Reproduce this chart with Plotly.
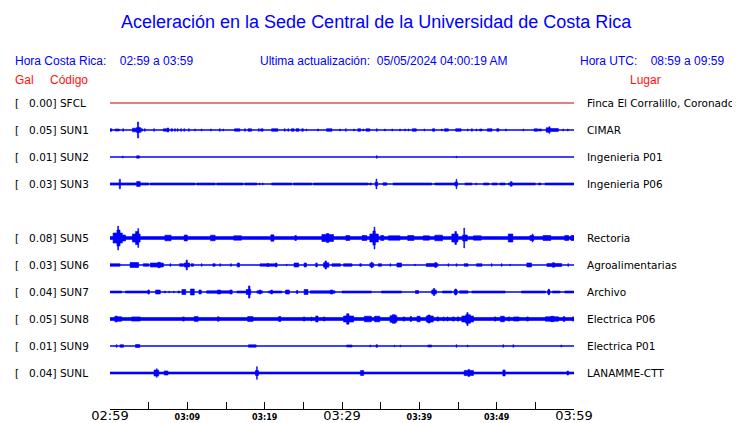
import plotly.graph_objects as go

# ---------------- data ----------------
TICK_MINUTES = list(range(0, 61, 5))
MAJOR_LABELS = {0: "02:59", 30: "03:29", 60: "03:59"}
MINOR_LABELS = {10: "03:09", 20: "03:19", 40: "03:39", 50: "03:49"}

codes = ["SFCL", "SUN1", "SUN2", "SUN3", "SUN5", "SUN6", "SUN7", "SUN8", "SUN9", "SUNL"]
rows = [0, 1, 2, 3, 5, 6, 7, 8, 9, 10]
gal = [0.00, 0.05, 0.01, 0.03, 0.08, 0.03, 0.04, 0.05, 0.01, 0.04]
places = ["Finca El Corralillo, Coronado", "CIMAR", "Ingenieria P01", "Ingenieria P06",
          "Rectoria", "Agroalimentarias", "Archivo", "Electrica P06", "Electrica P01", "LANAMME-CTT"]

# bursts: (start minute, end minute, relative amplitude)
SFCL_EVENTS = []
SUN1_EVENTS = [(0.0, 0.25, 1.2), (0.65, 1.2, 1.0), (1.65, 1.75, 1.3),
    (2.9, 3.45, 1.8), (3.45, 3.95, 2.5), (3.55, 3.7, 8.0), (3.95, 4.2, 1.3), (4.45, 4.55, 1.3), (5.65, 5.75, 1.3),
    (6.9, 7.6, 1.2), (7.4, 7.6, 2.0), (7.9, 8.1, 1.2), (8.35, 8.45, 1.3), (8.7, 8.8, 1.3), (9.15, 9.25, 1.3), (9.55, 9.65, 1.3),
    (10.15, 10.25, 1.3), (10.95, 11.05, 1.0), (11.8, 11.9, 1.0), (13.0, 13.1, 1.0), (14.15, 14.25, 1.3), (14.6, 14.7, 1.0),
    (16.1, 16.8, 1.2), (17.4, 17.5, 1.3), (17.85, 18.3, 1.2), (19.2, 19.3, 1.3), (19.5, 19.8, 1.2),
    (20.9, 21.7, 1.3), (22.55, 22.65, 1.3), (23.0, 23.1, 1.3), (23.45, 23.8, 1.3), (24.05, 24.45, 1.3), (24.8, 25.0, 1.3), (25.35, 25.45, 1.0),
    (26.85, 26.95, 1.0), (28.0, 28.7, 1.3), (29.7, 29.8, 1.0), (30.45, 30.55, 1.3), (31.5, 31.6, 1.0), (32.05, 32.4, 1.3), (32.7, 32.8, 1.0), (33.1, 33.6, 1.2),
    (34.45, 34.55, 1.3), (35.5, 35.6, 1.0), (36.45, 36.55, 1.0), (37.45, 37.55, 1.0), (38.1, 38.2, 1.0), (38.55, 38.65, 1.0),
    (39.1, 39.6, 1.3), (40.6, 40.7, 1.0), (41.7, 42.0, 1.3), (42.85, 42.95, 1.0), (43.25, 43.75, 1.2),
    (44.7, 45.4, 1.3), (46.2, 46.3, 1.0), (46.75, 46.85, 1.3), (47.35, 47.45, 1.0), (47.8, 48.1, 1.0),
    (48.8, 49.4, 1.3), (50.0, 50.3, 1.3), (51.15, 51.25, 1.0), (53.4, 53.5, 1.0), (54.85, 55.3, 1.2), (55.4, 55.8, 1.0),
    (56.4, 56.9, 2.2), (56.75, 56.9, 3.2), (56.9, 57.97, 1.5), (58.55, 58.65, 1.0), (59.15, 59.25, 1.0)]
SUN2_EVENTS = [(1.6, 1.7, 1.0), (3.45, 3.8, 1.2), (34.45, 34.55, 1.3), (44.75, 44.85, 0.8)]
SUN3_EVENTS = [(0.0, 5.0, 1.1), (1.2, 1.35, 4.7), (3.45, 3.9, 2.5), (5.2, 11.0, 1.0), (11.2, 13.6, 1.0),
    (13.8, 17.2, 1.0), (17.4, 19.0, 1.0), (19.3, 19.4, 1.0), (19.7, 19.8, 1.0),
    (20.9, 23.5, 1.0), (23.7, 26.1, 1.0), (26.3, 33.4, 1.0), (33.6, 33.8, 1.0),
    (34.3, 34.6, 2.0), (34.4, 34.5, 5.0), (35.3, 35.8, 1.2), (36.6, 41.6, 1.0), (42.0, 44.6, 1.0),
    (44.6, 44.95, 2.0), (44.75, 44.85, 4.7), (45.9, 46.8, 1.0), (47.3, 47.4, 1.0), (48.3, 49.0, 1.0),
    (49.4, 50.1, 1.0), (50.4, 51.1, 1.0), (51.5, 55.0, 1.0), (51.75, 52.0, 2.2), (55.4, 55.7, 1.0), (56.25, 60.0, 1.0)]
SUN5_EVENTS = [(0.0, 60.0, 1.4),
    (0.4, 1.6, 5.0), (0.9, 1.3, 8.0), (1.0, 1.1, 12.0), (1.6, 2.0, 3.0),
    (2.9, 3.9, 4.0), (3.3, 3.7, 6.5), (3.6, 3.7, 9.5),
    (7.1, 7.9, 2.8), (9.6, 10.0, 3.0), (13.0, 13.6, 2.8), (16.0, 17.0, 2.2), (20.8, 21.2, 3.2), (23.9, 24.1, 2.5),
    (27.4, 28.9, 3.5), (28.0, 28.3, 4.5), (30.5, 31.0, 2.5),
    (32.6, 33.2, 2.5), (33.6, 34.7, 4.0), (34.0, 34.3, 7.0), (34.15, 34.25, 11.0), (35.0, 35.4, 2.5),
    (36.0, 37.5, 2.2), (38.5, 39.3, 2.5), (40.5, 41.3, 2.2), (42.0, 43.0, 2.8),
    (44.2, 45.0, 4.0), (44.6, 44.8, 6.5), (45.6, 46.2, 3.0), (45.75, 45.85, 10.0),
    (47.0, 48.0, 2.2), (51.5, 52.1, 4.0), (54.3, 54.8, 2.5), (54.6, 54.7, 4.0), (56.0, 57.0, 2.5),
    (58.8, 59.3, 2.5), (59.6, 60.0, 2.5)]
SUN6_EVENTS = [(0.0, 1.3, 1.3), (2.6, 3.7, 2.5), (4.3, 5.0, 1.3), (5.2, 6.9, 2.0), (6.2, 6.5, 2.7),
    (7.75, 7.85, 1.3), (9.0, 9.5, 1.3), (9.6, 10.3, 2.0), (9.85, 10.0, 5.0), (10.5, 10.8, 1.3),
    (11.8, 11.9, 1.3), (13.3, 13.6, 1.3), (14.2, 14.3, 1.3), (15.6, 15.7, 1.3), (16.45, 16.75, 2.0),
    (19.4, 21.5, 1.2), (20.3, 20.5, 1.5), (21.4, 21.6, 2.0), (22.8, 22.9, 0.7), (23.8, 24.4, 2.0),
    (25.1, 25.4, 2.0), (26.6, 26.8, 2.0), (27.6, 28.3, 2.2), (27.8, 28.0, 4.0), (28.7, 29.8, 1.3),
    (30.2, 31.3, 1.3), (32.3, 32.5, 1.3), (33.6, 34.1, 1.8), (33.8, 33.9, 3.0), (34.7, 35.1, 1.3),
    (36.2, 36.3, 1.3), (37.1, 37.7, 2.0), (39.4, 39.5, 0.7), (40.9, 42.4, 1.5), (42.0, 42.2, 2.5),
    (43.7, 43.8, 1.3), (44.75, 44.85, 1.3), (45.8, 46.3, 1.3), (47.4, 48.1, 1.3), (49.3, 49.4, 1.3),
    (50.6, 50.7, 1.3), (51.7, 51.8, 0.7), (53.9, 54.5, 2.0), (56.5, 58.4, 1.5), (57.2, 57.5, 2.2), (59.2, 59.3, 1.3)]
SUN7_EVENTS = [(0.0, 1.5, 1.0), (2.0, 4.9, 1.0), (4.9, 5.1, 2.0), (5.9, 6.5, 2.0), (7.0, 7.2, 0.8), (7.6, 7.7, 0.8),
    (8.2, 8.3, 0.8), (8.8, 9.0, 1.0), (9.3, 9.8, 2.5), (10.4, 10.9, 3.0), (11.5, 11.8, 2.0), (12.5, 15.5, 1.2),
    (13.9, 14.3, 2.0), (15.5, 15.8, 2.0), (16.4, 17.5, 1.0), (17.6, 18.2, 2.5), (17.9, 18.1, 6.0),
    (19.0, 19.7, 1.2), (19.3, 19.5, 2.0), (20.5, 22.2, 1.0), (20.8, 21.0, 2.0), (22.7, 23.2, 2.0),
    (24.1, 24.3, 1.5), (25.1, 25.6, 2.5), (25.9, 29.1, 1.2), (28.5, 28.8, 2.0), (30.0, 33.8, 1.0),
    (35.1, 37.7, 1.0), (39.5, 39.9, 1.5), (41.6, 42.2, 2.0), (41.8, 42.0, 3.5), (43.0, 44.2, 1.0),
    (44.5, 44.9, 2.0), (44.6, 44.8, 3.0), (45.2, 46.3, 1.2), (46.8, 51.1, 1.0), (53.2, 56.3, 1.0),
    (56.6, 56.9, 2.0), (56.7, 56.8, 3.0), (57.2, 58.2, 1.0), (58.8, 60.0, 1.0)]
SUN8_EVENTS = [(0.0, 60.0, 1.5),
    (0.6, 1.5, 2.3), (0.7, 0.9, 3.0), (2.8, 3.9, 2.1), (9.4, 9.6, 2.1), (10.9, 11.4, 2.4), (13.9, 14.1, 2.2),
    (17.8, 18.5, 2.4), (21.8, 22.1, 2.4), (25.0, 25.2, 2.0), (26.0, 26.1, 2.0), (26.6, 26.9, 3.0), (27.6, 27.8, 2.0),
    (30.2, 31.5, 3.0), (30.6, 30.9, 5.2), (32.9, 33.8, 2.8), (34.2, 34.9, 2.8), (36.2, 37.1, 3.2), (36.5, 36.9, 4.3),
    (37.9, 38.1, 2.1), (38.8, 39.0, 2.4), (39.7, 40.1, 2.8), (40.9, 41.8, 3.0), (41.1, 41.4, 4.0),
    (42.3, 42.5, 2.1), (43.1, 43.2, 2.1), (43.6, 43.7, 2.1), (44.3, 44.5, 2.1), (44.9, 45.1, 2.1),
    (45.5, 47.0, 3.0), (46.0, 46.6, 4.3), (46.15, 46.3, 6.5), (49.7, 49.9, 2.1), (50.5, 51.0, 2.8),
    (51.5, 51.7, 2.1), (52.2, 52.9, 2.1), (53.9, 54.1, 2.1), (56.3, 58.0, 2.2), (57.0, 57.4, 2.7),
    (58.6, 58.8, 2.4), (59.8, 60.0, 2.1)]
SUN9_EVENTS = [(0.8, 0.9, 1.3), (1.3, 1.75, 1.3), (3.3, 3.85, 1.5), (17.9, 18.9, 1.2), (30.6, 31.3, 1.0),
    (33.6, 33.7, 1.0), (34.4, 34.6, 1.3), (36.75, 36.85, 0.8), (37.5, 37.6, 0.8), (41.1, 41.6, 1.0),
    (44.75, 44.85, 1.3), (46.2, 46.3, 1.0), (50.8, 50.9, 1.3), (52.1, 52.2, 1.3), (58.3, 58.4, 1.0)]
SUNL_EVENTS = [(0.0, 60.0, 1.0), (5.7, 6.3, 3.0), (6.0, 6.1, 4.3), (7.0, 7.5, 2.0), (18.8, 19.2, 2.5),
    (18.95, 19.05, 6.3), (32.4, 32.8, 2.5), (45.8, 47.0, 2.5), (46.3, 46.5, 3.5), (50.8, 51.1, 3.0), (59.1, 59.3, 2.0)]

events = [SFCL_EVENTS, SUN1_EVENTS, SUN2_EVENTS, SUN3_EVENTS, SUN5_EVENTS,
          SUN6_EVENTS, SUN7_EVENTS, SUN8_EVENTS, SUN9_EVENTS, SUNL_EVENTS]

# ---------------- styling ----------------
BLUE = "#0000ff"
RED = "#ff1010"
AMP_SCALE = 1 / 27.0          # relative amplitude -> row units
W, H = 740, 423
OFF = 8                        # page body margin
# plot area in page pixels: x 110..574, y 90..409
L = 110 - OFF
R = W - (574 - OFF)
T = 90 - OFF
B = H - (409 - OFF)
Y_TOP, Y_BOT = -0.481, 11.333

def px_x(p):
    return (p - 110) / 464.0

def px_y(p):
    return (409 - p) / 319.0

fig = go.Figure()
for code, row, evs in zip(codes, rows, events):
    if code == "SFCL":
        color, lw = "#c00000", 1.0
    else:
        color, lw = BLUE, 1.3
    fig.add_trace(go.Scatter(x=[0, 60], y=[row, row], mode="lines",
                             line=dict(color=color, width=lw), hoverinfo="skip"))
    if evs:
        xs, ys = [], []
        for t0, t1, a in evs:
            h = a * AMP_SCALE
            xs += [t0, t1, t1, t0, t0, None]
            ys += [row - h, row - h, row + h, row + h, row - h, None]
        fig.add_trace(go.Scatter(x=xs, y=ys, mode="lines", fill="toself", fillcolor=color,
                                 line=dict(color=color, width=0.6), hoverinfo="skip"))

ticktext = []
for m in TICK_MINUTES:
    if m in MAJOR_LABELS:
        ticktext.append(MAJOR_LABELS[m])
    elif m in MINOR_LABELS:
        ticktext.append('<span style="font-size:8px;font-weight:bold">%s</span>' % MINOR_LABELS[m])
    else:
        ticktext.append("")

lab_font = dict(family="DejaVu Sans", size=10.5, color="black")
ann = []
for code, row, g, place in zip(codes, rows, gal, places):
    ann.append(dict(x=px_x(13), y=row, xref="paper", yref="y", xanchor="left", yanchor="middle",
                    text="[\u00a0\u00a0\u00a0%.2f] %s" % (g, code), showarrow=False, font=lab_font))
    ann.append(dict(x=px_x(585), y=row, xref="paper", yref="y", xanchor="left", yanchor="middle",
                    text=place, showarrow=False, font=lab_font))

hdr = dict(family="Liberation Sans, Arial", size=12, color=BLUE)
red = dict(family="Liberation Sans, Arial", size=12, color=RED)
ann += [
    dict(x=px_x(376), y=px_y(22), xref="paper", yref="paper", xanchor="center", yanchor="middle",
         text="Aceleración en la Sede Central de la Universidad de Costa Rica", showarrow=False,
         font=dict(family="Liberation Sans, Arial", size=18, color=BLUE)),
    dict(x=px_x(13), y=px_y(61), xref="paper", yref="paper", xanchor="left", yanchor="middle",
         text="Hora Costa Rica:\u00a0\u00a0\u00a0 02:59 a 03:59", showarrow=False, font=hdr),
    dict(x=px_x(258), y=px_y(61), xref="paper", yref="paper", xanchor="left", yanchor="middle",
         text="Ultima actualización:\u00a0 05/05/2024 04:00:19 AM", showarrow=False, font=hdr),
    dict(x=px_x(578), y=px_y(61), xref="paper", yref="paper", xanchor="left", yanchor="middle",
         text="Hora UTC:\u00a0\u00a0\u00a0 08:59 a 09:59", showarrow=False, font=hdr),
    dict(x=px_x(13), y=px_y(80), xref="paper", yref="paper", xanchor="left", yanchor="middle",
         text="Gal", showarrow=False, font=red),
    dict(x=px_x(48), y=px_y(80), xref="paper", yref="paper", xanchor="left", yanchor="middle",
         text="Código", showarrow=False, font=red),
    dict(x=px_x(628), y=px_y(80), xref="paper", yref="paper", xanchor="left", yanchor="middle",
         text="Lugar", showarrow=False, font=red),
]

fig.update_layout(
    width=W, height=H, margin=dict(l=L, r=R, t=T, b=B, autoexpand=False),
    paper_bgcolor="white", plot_bgcolor="white", showlegend=False,
    annotations=ann,
    xaxis=dict(range=[0, 60], tickvals=TICK_MINUTES, ticktext=ticktext, ticks="inside",
               ticklen=7, tickcolor="black", tickwidth=1, showline=True, linecolor="black",
               linewidth=1, showgrid=False, zeroline=False, automargin=False,
               ticklabelstandoff=-6,
               tickfont=dict(family="DejaVu Sans", size=13, color="black")),
    yaxis=dict(range=[Y_BOT, Y_TOP], visible=False, showgrid=False, zeroline=False, automargin=False),
)
fig.write_html("out.html")
